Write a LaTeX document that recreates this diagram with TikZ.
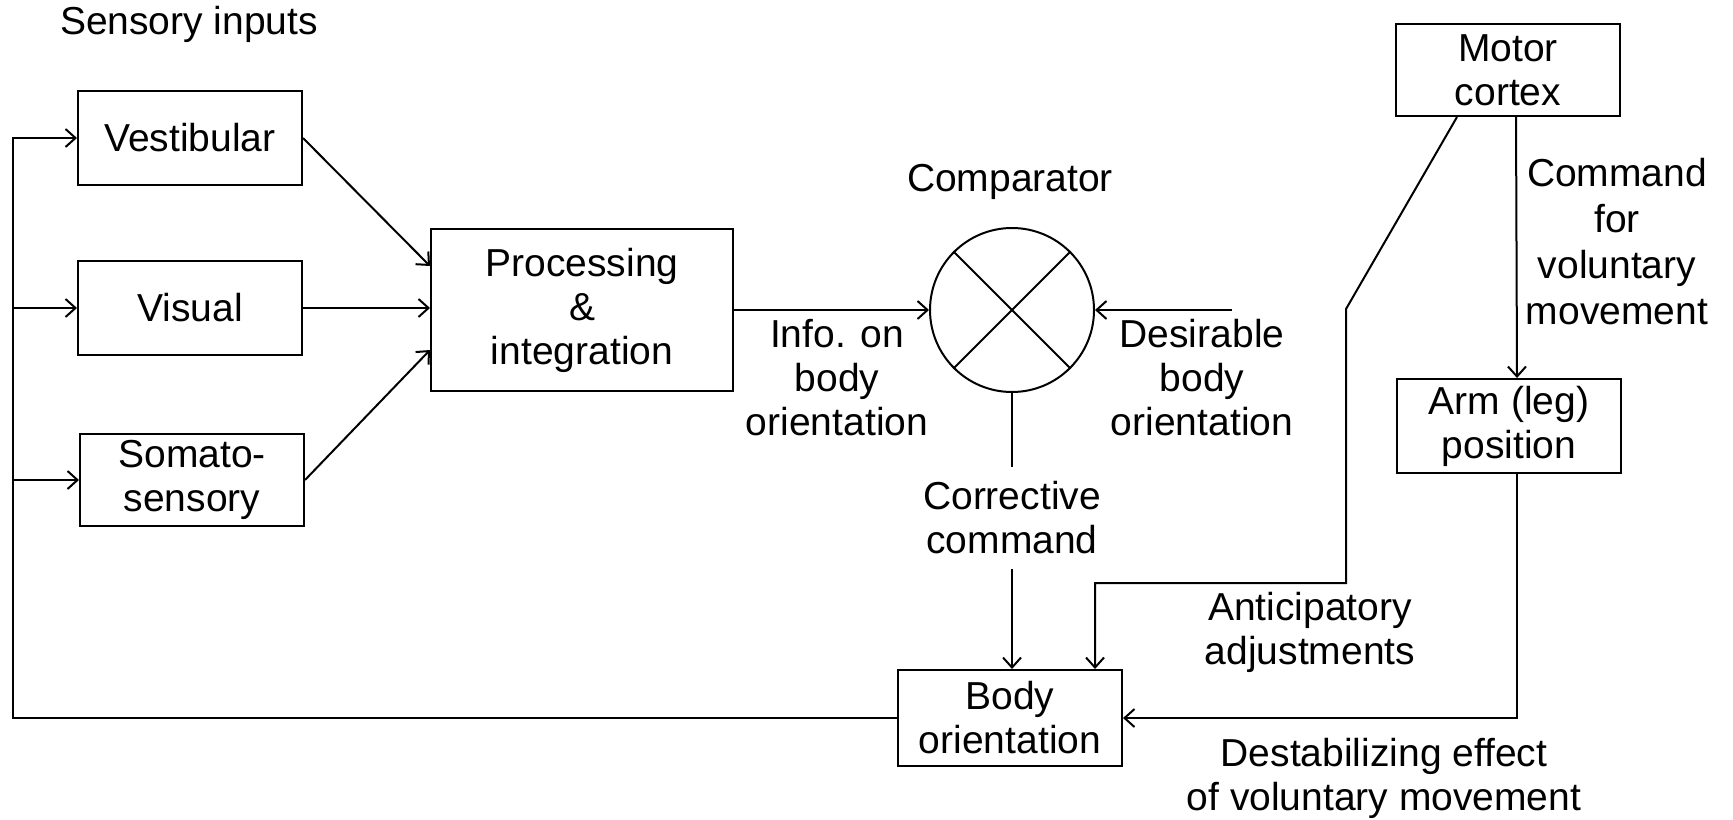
\documentclass[tikz,border=0pt]{standalone}
\usepackage{fontspec}
\setmainfont{Liberation Sans}
\usetikzlibrary{arrows.meta, positioning, calc}

\begin{document}
\begin{tikzpicture}[
    x=0.5pt, y=-0.5pt,
    font=\fontsize{19.5}{22}\selectfont,
    box/.style={draw, line width=1pt, align=center, minimum width=112pt, minimum height=47pt, inner sep=0pt},
    lbl/.style={align=center, inner sep=4pt},
    arr/.style={-{Straight Barb[length=5pt, width=9pt]}, line width=1pt},
    ln/.style={line width=1pt}
]
\useasboundingbox (0,0) rectangle (1733,819);

% sensory side
\node[lbl] (sens) at (189,24) {Sensory inputs};
\node[box] (vest) at (190,138) {Vestibular};
\node[box] (vis) at (190,308) {Visual};
\node[box, minimum height=46pt] (soma) at (192,480) {Somato-\\sensory};
\node[box, minimum width=151pt, minimum height=81pt] (proc) at (582,310) {Processing\\\&\\integration};

% comparator
\node[draw, circle, line width=1pt, minimum size=82pt, inner sep=0pt] (comp) at (1012,310) {};
\draw[ln] (comp.45) -- (comp.225);
\draw[ln] (comp.135) -- (comp.315);
\node[lbl] (complbl) at (1010,182) {Comparator};
\node[lbl] (info) at (837,378) {Info. on\\body\\orientation};
\node[lbl] (desire) at (1202,378) {Desirable\\body\\orientation};
\coordinate (desin) at (1232,310);
\node[lbl, inner sep=7pt] (corr) at (1012,518) {Corrective\\command};
\node[box, minimum height=48pt] (body) at (1010,718) {Body\\orientation};

% motor side
\node[box, minimum height=46pt] (motor) at (1508,70) {Motor\\cortex};
\node[box] (arm) at (1509,426) {Arm (leg)\\position};
\node[lbl, font=\fontsize{19.5}{23}\selectfont] (cmd) at (1617,242) {Command\\for\\voluntary\\movement};
\node[lbl] (antic) at (1310,632) {Anticipatory\\adjustments};
\node[lbl] (destab) at (1384,778) {Destabilizing effect\\of voluntary movement};
\coordinate (ant1) at (1346,309);
\coordinate (ant2) at (1346,583);
\coordinate (fbtop) at (13,138);

\draw[arr] (vest.east) -- ([yshift=22pt]proc.west);
\draw[arr] (vis.east) -- (vis.east -| proc.west);
\draw[arr] (soma.east) -- ([yshift=-20pt]proc.west);
\draw[arr] (proc) -- (comp);
\draw[arr] (desin) -- (comp);
\draw[ln] (comp.south) -- (corr.north);
\draw[arr] (corr.south) -- (corr.south |- body.north);
\draw[arr] ([xshift=4pt]motor.south) -- ([xshift=4pt]arm.north);
\draw[arr] ([xshift=31pt]motor.south west) -- (ant1) -- (ant2) -| ([xshift=-14pt]body.north east);
\draw[arr] ([xshift=4pt]arm.south) |- (body.east);
\draw[arr] (body.west) -| (fbtop) -- (vest.west);
\draw[arr] (vis.west -| fbtop) -- (vis.west);
\draw[arr] (soma.west -| fbtop) -- (soma.west);
\end{tikzpicture}
\end{document}
